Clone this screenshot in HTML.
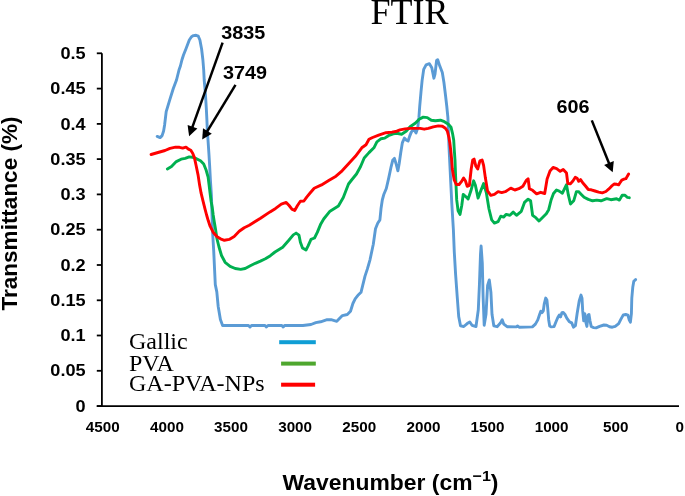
<!DOCTYPE html>
<html><head><meta charset="utf-8"><style>
html,body{margin:0;padding:0;background:#fff;}
svg{display:block;will-change:transform;}
.yl{font-family:"Liberation Sans",sans-serif;font-weight:bold;font-size:16.5px;fill:#000;}
.xl{font-family:"Liberation Sans",sans-serif;font-weight:bold;font-size:14px;fill:#000;}
.an{font-family:"Liberation Sans",sans-serif;font-weight:bold;font-size:18px;fill:#000;}
.lg{font-family:"Liberation Serif",serif;font-size:24px;fill:#000;}
</style></head><body>
<svg width="685" height="496" viewBox="0 0 685 496">
<rect width="685" height="496" fill="#fff"/>
<text x="409.4" y="24" text-anchor="middle" font-family="Liberation Serif, serif" font-size="36">FTIR</text>
<text transform="translate(17.3,213.5) rotate(-90)" text-anchor="middle" font-family="Liberation Sans, sans-serif" font-weight="bold" font-size="22.5">Transmittance (%)</text>
<text transform="translate(390.5,489.5) scale(1.07,1)" text-anchor="middle" font-family="Liberation Sans, sans-serif" font-weight="bold" font-size="21.4">Wavenumber (cm<tspan dy="-8.5" font-size="15">−1</tspan><tspan dy="8.5">)</tspan></text>
<line x1="96.8" y1="406.1" x2="102" y2="406.1" stroke="#000" stroke-width="1.8"/><line x1="96.8" y1="370.8" x2="102" y2="370.8" stroke="#000" stroke-width="1.8"/><line x1="96.8" y1="335.5" x2="102" y2="335.5" stroke="#000" stroke-width="1.8"/><line x1="96.8" y1="300.3" x2="102" y2="300.3" stroke="#000" stroke-width="1.8"/><line x1="96.8" y1="265.0" x2="102" y2="265.0" stroke="#000" stroke-width="1.8"/><line x1="96.8" y1="229.7" x2="102" y2="229.7" stroke="#000" stroke-width="1.8"/><line x1="96.8" y1="194.4" x2="102" y2="194.4" stroke="#000" stroke-width="1.8"/><line x1="96.8" y1="159.1" x2="102" y2="159.1" stroke="#000" stroke-width="1.8"/><line x1="96.8" y1="123.9" x2="102" y2="123.9" stroke="#000" stroke-width="1.8"/><line x1="96.8" y1="88.6" x2="102" y2="88.6" stroke="#000" stroke-width="1.8"/><line x1="96.8" y1="53.3" x2="102" y2="53.3" stroke="#000" stroke-width="1.8"/>
<line x1="101.9" y1="53.3" x2="101.9" y2="406.5" stroke="#000" stroke-width="1.8"/>
<line x1="96.8" y1="406.1" x2="679" y2="406.1" stroke="#000" stroke-width="1.8"/>
<text transform="translate(85.6,411.7) scale(1.1,1)" text-anchor="end" class="yl">0</text><text transform="translate(85.6,376.4) scale(1.1,1)" text-anchor="end" class="yl">0.05</text><text transform="translate(85.6,341.1) scale(1.1,1)" text-anchor="end" class="yl">0.1</text><text transform="translate(85.6,305.9) scale(1.1,1)" text-anchor="end" class="yl">0.15</text><text transform="translate(85.6,270.6) scale(1.1,1)" text-anchor="end" class="yl">0.2</text><text transform="translate(85.6,235.3) scale(1.1,1)" text-anchor="end" class="yl">0.25</text><text transform="translate(85.6,200.0) scale(1.1,1)" text-anchor="end" class="yl">0.3</text><text transform="translate(85.6,164.7) scale(1.1,1)" text-anchor="end" class="yl">0.35</text><text transform="translate(85.6,129.5) scale(1.1,1)" text-anchor="end" class="yl">0.4</text><text transform="translate(85.6,94.2) scale(1.1,1)" text-anchor="end" class="yl">0.45</text><text transform="translate(85.6,58.9) scale(1.1,1)" text-anchor="end" class="yl">0.5</text>
<text transform="translate(102.8,432) scale(1.09,1)" text-anchor="middle" class="xl">4500</text><text transform="translate(166.9,432) scale(1.09,1)" text-anchor="middle" class="xl">4000</text><text transform="translate(231.0,432) scale(1.09,1)" text-anchor="middle" class="xl">3500</text><text transform="translate(295.1,432) scale(1.09,1)" text-anchor="middle" class="xl">3000</text><text transform="translate(359.2,432) scale(1.09,1)" text-anchor="middle" class="xl">2500</text><text transform="translate(423.4,432) scale(1.09,1)" text-anchor="middle" class="xl">2000</text><text transform="translate(487.5,432) scale(1.09,1)" text-anchor="middle" class="xl">1500</text><text transform="translate(551.6,432) scale(1.09,1)" text-anchor="middle" class="xl">1000</text><text transform="translate(615.7,432) scale(1.09,1)" text-anchor="middle" class="xl">500</text><text transform="translate(679.8,432) scale(1.09,1)" text-anchor="middle" class="xl">0</text>
<g fill="none" stroke-width="2.9" stroke-linejoin="round" stroke-linecap="round">
<path d="M157.2,136.4 L160.1,137.6 L162.1,135.6 L163.6,131.0 L164.6,125.0 L166.2,111.7 L169.6,100.3 L173.3,88.5 L176.5,80.0 L179.0,70.0 L180.4,66.0 L181.9,60.0 L183.5,55.0 L185.9,49.0 L189.3,40.0 L191.5,36.8 L193.5,35.6 L196.0,35.3 L198.3,36.2 L199.9,40.0 L201.6,49.0 L202.9,60.0 L203.7,70.0 L204.2,80.0 L205.1,90.0 L205.8,100.0 L206.4,110.0 L206.9,120.0 L207.3,130.0 L208.0,140.0 L209.0,155.0 L209.6,165.0 L210.4,180.0 L211.4,195.0 L212.5,230.4 L213.7,250.6 L214.6,270.0 L215.3,284.6 L216.8,291.9 L218.2,306.5 L220.4,319.6 L222.6,325.5 L248.5,325.5 L250.0,327.0 L251.5,325.5 L265.0,325.5 L266.4,327.0 L268.0,325.5 L281.8,325.5 L283.2,327.0 L284.6,325.5 L302.9,325.5 L311.0,324.5 L315.8,322.6 L320.6,321.8 L327.1,319.7 L331.1,319.7 L336.8,321.3 L342.4,315.6 L347.3,314.5 L350.5,311.3 L352.9,303.5 L355.3,298.7 L358.5,294.7 L361.0,292.3 L362.6,285.8 L365.0,276.1 L367.4,268.9 L370.0,259.8 L373.3,244.3 L375.5,228.7 L377.7,223.2 L379.9,219.9 L381.0,208.8 L382.3,200.0 L383.9,194.2 L386.3,188.5 L388.7,178.1 L391.1,166.8 L392.7,160.3 L394.4,158.4 L396.0,163.5 L397.9,170.8 L399.2,163.5 L400.8,152.3 L402.4,142.6 L404.4,138.1 L406.5,140.2 L408.1,141.0 L409.7,136.1 L411.3,132.1 L413.7,128.9 L416.1,132.9 L417.7,128.1 L418.9,117.7 L419.7,106.5 L421.0,91.9 L422.1,80.6 L423.7,69.4 L426.1,64.8 L429.4,63.7 L431.8,67.7 L433.9,78.2 L435.0,74.2 L436.6,60.5 L437.7,59.7 L439.8,66.1 L442.3,72.6 L443.9,82.3 L445.5,95.2 L446.8,106.5 L447.9,117.7 L448.4,130.0 L449.0,146.9 L450.0,167.2 L451.8,203.5 L453.4,230.0 L454.3,252.2 L455.6,274.3 L457.2,296.5 L458.7,316.5 L460.5,325.8 L463.8,326.5 L467.2,323.6 L469.8,322.0 L472.0,325.3 L476.0,326.5 L478.3,309.8 L479.4,285.4 L480.5,254.4 L481.1,246.0 L482.3,263.3 L483.1,296.5 L484.2,325.3 L486.0,314.3 L487.6,285.4 L489.3,279.9 L490.9,292.1 L492.0,314.3 L493.8,325.8 L497.1,326.7 L500.4,323.1 L502.2,319.8 L503.8,324.2 L507.1,326.7 L516.0,326.9 L517.5,326.0 L519.1,327.2 L532.4,326.9 L535.4,324.1 L537.8,319.9 L539.6,314.5 L540.8,311.2 L542.0,312.6 L543.3,310.8 L544.2,304.2 L545.7,298.1 L546.9,300.0 L547.7,307.8 L548.7,319.9 L549.7,326.0 L551.1,326.9 L554.1,326.6 L556.0,321.7 L557.8,317.5 L559.3,315.1 L560.5,316.9 L562.0,312.6 L563.2,312.4 L565.0,314.5 L566.8,318.1 L569.3,321.7 L571.7,322.9 L573.5,327.2 L575.4,325.7 L577.1,313.7 L579.2,301.0 L581.0,295.1 L582.0,298.2 L582.7,310.9 L583.7,320.8 L584.8,313.7 L585.8,322.2 L586.9,326.4 L588.1,315.2 L589.0,314.5 L590.0,320.8 L591.2,326.4 L593.3,327.6 L596.1,327.9 L599.6,326.4 L603.9,325.0 L606.7,325.3 L609.5,326.7 L612.3,327.2 L615.2,326.4 L618.7,323.6 L620.8,319.4 L623.3,314.9 L625.7,314.5 L627.9,315.2 L629.3,320.1 L630.4,322.2 L631.4,313.7 L631.8,298.2 L632.8,286.9 L633.8,281.3 L635.6,279.6" stroke="#5B9BD5"/>
<path d="M167.4,168.9 L171.5,166.5 L176.3,161.6 L181.1,159.2 L185.2,158.4 L189.2,156.9 L192.4,157.2 L195.6,158.4 L200.5,160.8 L203.7,164.0 L206.1,170.0 L208.1,177.1 L209.1,185.1 L210.1,193.2 L211.1,201.3 L212.2,207.3 L213.2,215.0 L214.3,222.0 L215.5,229.0 L217.0,239.0 L219.0,247.0 L221.5,255.5 L225.1,262.3 L230.1,266.3 L235.2,268.5 L240.7,269.4 L245.2,268.5 L250.3,265.8 L255.3,263.3 L260.4,261.1 L265.4,258.8 L270.4,255.7 L275.0,252.0 L282.7,247.2 L288.4,240.8 L293.3,234.9 L296.1,233.1 L299.0,235.2 L300.4,242.3 L302.5,247.9 L306.0,250.0 L308.1,245.8 L311.0,239.4 L314.5,238.0 L317.3,232.4 L320.8,223.9 L323.7,219.0 L330.0,211.2 L338.4,206.0 L343.3,197.5 L348.5,184.0 L352.0,179.5 L356.5,174.0 L360.6,166.5 L364.2,158.0 L369.0,152.6 L373.9,147.8 L376.9,141.8 L381.1,138.7 L384.7,138.1 L388.4,135.7 L393.2,133.9 L396.8,133.3 L401.6,134.2 L406.1,131.3 L410.1,126.7 L415.2,123.2 L419.2,119.2 L423.2,117.1 L427.3,117.6 L431.3,120.2 L435.3,120.7 L440.4,120.2 L444.4,121.7 L448.4,124.2 L451.0,127.2 L452.5,133.3 L453.7,140.0 L454.3,150.0 L455.0,160.0 L455.6,176.3 L456.7,199.9 L458.1,210.8 L460.0,214.4 L461.8,205.3 L463.2,194.4 L465.4,196.3 L468.1,199.0 L470.9,190.8 L473.6,180.8 L475.4,185.4 L478.1,198.1 L480.8,190.8 L483.6,183.6 L486.3,192.6 L489.0,209.0 L491.7,219.9 L494.4,223.1 L498.1,221.7 L500.8,216.2 L503.5,217.1 L506.2,214.4 L509.9,215.3 L513.2,212.1 L516.5,215.3 L521.3,211.3 L524.5,202.4 L528.1,199.2 L530.6,200.8 L532.6,215.3 L535.8,217.7 L539.0,221.0 L542.3,217.7 L546.3,213.7 L548.7,209.7 L551.1,200.0 L553.5,193.5 L556.5,190.0 L559.2,191.1 L562.4,193.2 L566.5,184.7 L568.4,195.2 L570.5,204.0 L573.7,200.8 L576.4,191.6 L578.5,191.6 L581.3,194.5 L584.1,197.3 L588.3,199.4 L592.6,200.8 L596.8,200.1 L601.0,200.8 L606.7,198.7 L610.9,199.7 L616.6,198.7 L619.4,200.1 L622.2,195.2 L625.0,195.2 L627.2,197.3 L629.3,197.7" stroke="#00B050"/>
<path d="M151.1,154.5 L158.0,152.5 L165.0,150.5 L170.0,148.3 L175.5,147.1 L179.5,147.3 L182.7,148.1 L186.0,147.1 L188.4,149.1 L190.8,150.3 L192.8,153.5 L194.4,157.6 L196.0,165.0 L198.1,175.1 L199.6,185.1 L201.1,193.2 L203.1,201.3 L205.1,209.3 L206.6,215.0 L208.3,220.8 L210.1,226.2 L213.1,232.2 L217.1,236.8 L220.5,238.8 L224.4,240.3 L229.2,239.4 L234.2,236.4 L239.2,231.3 L244.2,227.7 L249.3,225.2 L260.5,218.3 L270.0,211.9 L275.6,208.4 L281.3,204.1 L286.2,202.4 L289.1,205.5 L291.9,209.1 L294.7,210.5 L297.5,205.5 L300.4,201.3 L303.9,201.0 L306.7,197.1 L310.3,192.8 L314.2,188.3 L321.5,184.9 L328.7,180.5 L336.0,176.2 L342.1,170.8 L348.1,164.3 L355.4,156.3 L361.8,147.8 L366.0,144.8 L369.0,139.3 L372.6,137.5 L378.7,135.1 L386.0,132.7 L392.0,132.1 L396.8,131.2 L400.0,129.9 L405.1,128.9 L410.1,128.4 L415.2,128.4 L420.2,128.4 L424.2,129.2 L428.3,128.4 L433.3,126.9 L438.3,125.9 L442.4,126.2 L445.4,128.2 L447.4,131.3 L448.9,137.3 L449.9,143.3 L450.7,150.0 L451.5,158.0 L452.3,169.0 L454.2,179.9 L456.3,184.5 L459.1,184.5 L461.4,181.7 L463.6,178.1 L465.4,180.8 L467.2,186.3 L469.4,185.4 L471.2,169.0 L472.7,160.0 L474.1,159.1 L475.9,166.3 L477.7,169.0 L479.9,160.9 L482.1,160.0 L483.6,165.4 L485.4,178.1 L487.5,190.8 L490.8,195.4 L494.4,194.4 L498.1,191.7 L501.7,192.6 L505.3,191.7 L508.1,189.9 L510.8,188.1 L514.8,190.0 L518.9,188.7 L522.9,186.3 L526.1,180.6 L528.1,178.7 L529.4,188.7 L532.6,190.3 L536.6,193.9 L540.6,192.3 L544.7,193.5 L547.1,179.0 L550.0,171.0 L553.1,167.4 L556.6,168.6 L560.2,171.3 L563.2,169.5 L566.5,173.0 L567.8,183.5 L570.2,183.9 L572.9,181.0 L575.3,177.3 L577.1,178.2 L578.7,181.3 L580.6,179.6 L582.7,182.7 L585.5,186.0 L588.3,189.5 L591.2,189.8 L595.0,191.0 L598.6,192.1 L602.3,192.8 L605.9,191.5 L608.6,189.2 L611.3,186.4 L614.1,184.0 L616.8,184.3 L618.6,184.9 L620.0,182.8 L621.8,180.1 L624.0,179.2 L625.9,178.7 L627.2,176.4 L628.6,174.1" stroke="#FF0000"/>
</g>
<line x1="222.6" y1="42.6" x2="192.1" y2="127.8" stroke="#000" stroke-width="2.5"/><polygon points="189.1,136.3 187.6,125.1 197.4,128.6" fill="#000"/>
<line x1="235.5" y1="84.8" x2="206.9" y2="131.8" stroke="#000" stroke-width="2.5"/><polygon points="202.2,139.5 203.0,128.3 211.8,133.7" fill="#000"/>
<line x1="591.8" y1="120.4" x2="609.3" y2="164.0" stroke="#000" stroke-width="2.5"/><polygon points="612.7,172.3 604.1,165.0 613.8,161.1" fill="#000"/>
<text transform="translate(221.3,39.4) scale(1.1,1)" class="an">3835</text>
<text transform="translate(223,79) scale(1.1,1)" class="an">3749</text>
<text transform="translate(556.5,112.6) scale(1.1,1)" class="an">606</text>
<text x="129" y="349.2" class="lg">Gallic</text>
<text x="129" y="370.6" class="lg">PVA</text>
<text x="129" y="391.2" class="lg">GA-PVA-NPs</text>
<rect x="279.2" y="340.2" width="36.6" height="4" fill="#0F9ED5"/>
<rect x="281.1" y="361.6" width="34.7" height="4" fill="#4EA72E"/>
<rect x="281.1" y="382.7" width="34" height="4" fill="#FF0000"/>
</svg>
</body></html>
